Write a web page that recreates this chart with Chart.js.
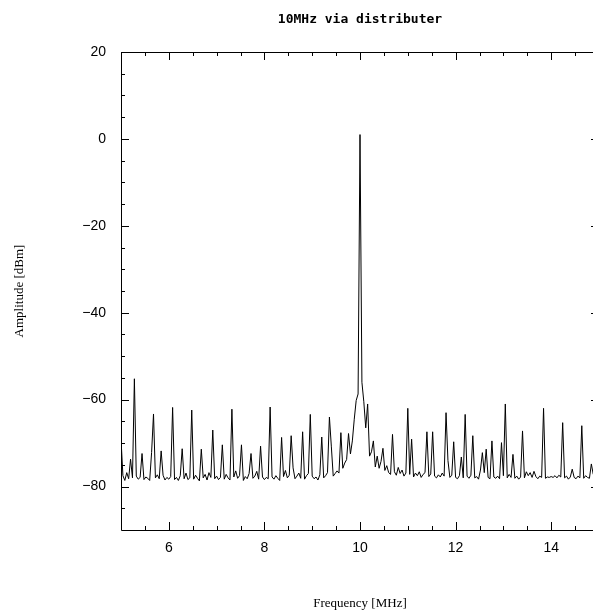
<!DOCTYPE html>
<html>
<head>
<meta charset="utf-8">
<script src="https://cdn.jsdelivr.net/npm/chart.js@4/dist/chart.umd.min.js"></script>
<style>
  html, body { margin: 0; padding: 0; background: #fff; overflow: hidden; }
  canvas { display: block; }
</style>
</head>
<body>
<canvas id="spectrum" width="600" height="616"></canvas>
<script>
// sweep grid (MHz)
const freqStartMHz = 5;
const freqStepMHz = 0.04;

// amplitude per sweep point, dBm (25 points per MHz)
const amplitudeDbm = [
  // 5.00 - 5.96
  -69.0, -77.5, -78.6, -76.8, -78.2, -73.7, -78.0, -55.2, -77.6, -78.3,
  -77.9, -72.4, -78.4, -77.8, -78.1, -78.6, -72.2, -63.3, -78.0, -77.3,
  -78.2, -71.8, -77.4, -78.5, -77.9,
  // 6.00 - 6.96
  -78.3, -77.7, -61.8, -78.4, -77.9, -78.6, -77.5, -71.3, -78.2, -76.9,
  -78.4, -78.0, -62.4, -78.3, -77.4, -78.1, -78.7, -71.4, -78.0, -77.2,
  -78.5, -76.8, -77.9, -67.0, -78.2,
  // 7.00 - 7.96
  -77.6, -78.4, -77.9, -70.4, -78.3, -77.2, -78.0, -78.5, -62.2, -77.8,
  -76.4, -78.1, -77.5, -70.4, -78.6, -77.7, -78.2, -77.0, -72.4, -78.1,
  -77.6, -76.5, -78.3, -70.7, -77.8,
  // 8.00 - 8.96
  -78.4, -77.9, -78.2, -61.7, -77.8, -78.3, -77.5, -78.1, -78.6, -68.7,
  -77.7, -76.3, -78.0, -77.4, -68.3, -75.7, -78.2, -77.6, -76.9, -78.1,
  -67.4, -78.3, -77.5, -77.0, -63.4,
  // 9.00 - 9.96
  -77.6, -78.2, -77.8, -78.5, -77.3, -68.6, -78.0, -77.5, -76.8, -64.0,
  -70.7, -77.6, -77.0, -76.4, -76.9, -67.6, -75.8, -74.6, -73.8, -67.8,
  -72.5, -69.5, -64.5, -60.2, -58.7,
  // 10.00 - 10.96
  1.0, -56.0, -60.5, -66.5, -61.0, -73.0, -72.0, -69.5, -75.5, -73.0,
  -75.8, -74.2, -71.2, -76.3, -75.2, -76.8, -77.2, -68.0, -76.6, -77.4,
  -75.6, -77.0, -76.2, -77.6, -76.9,
  // 11.00 - 11.96
  -62.0, -77.2, -69.1, -77.8, -76.9, -77.5, -76.6, -77.9, -77.2, -76.8,
  -67.4, -77.7, -77.1, -67.4, -77.6, -78.0, -77.3, -77.8, -76.9, -77.6,
  -63.0, -74.0, -77.9, -77.4, -69.7,
  // 12.00 - 12.96
  -77.9, -78.2, -77.5, -73.2, -78.0, -63.4, -77.6, -78.1, -77.4, -68.3,
  -78.0, -77.7, -78.3, -76.2, -72.2, -76.8, -71.4, -77.9, -78.2, -69.5,
  -77.8, -78.1, -77.6, -78.2, -69.9,
  // 13.00 - 13.96
  -77.5, -61.0, -78.0, -77.2, -77.9, -72.6, -78.1, -77.6, -78.3, -77.8,
  -67.2, -78.0, -76.6, -77.5, -76.8, -77.9, -76.5, -77.7, -78.2, -77.6,
  -77.9, -62.0, -78.1, -77.8, -77.9,
  // 14.00 - 15.00
  -77.7, -77.9, -77.5, -78.0, -77.4, -77.8, -65.3, -78.0, -77.6, -78.3,
  -77.8, -76.0, -77.9, -78.2, -77.6, -78.0, -66.0, -78.1, -77.5, -77.9,
  -78.1, -74.8, -77.2, -77.6, -77.9, -77.4
];

// axes
const xMajorTicks = [6, 8, 10, 12, 14];
const xMinorTicks = [5, 5.5, 6.5, 7, 7.5, 8.5, 9, 9.5, 10.5, 11, 11.5, 12.5, 13, 13.5, 14.5];
const yMajorTicks = [20, 0, -20, -40, -60, -80];
const yMinorTicks = [15, 10, 5, -5, -10, -15, -25, -30, -35, -45, -50, -55, -65, -70, -75, -85];

const points = amplitudeDbm.map((v, i) => ({ x: freqStartMHz + i * freqStepMHz, y: v }));

const fmtMinus = (v) => (v < 0 ? '\u2212' + Math.abs(v) : String(v));

// frame + inward ticks on all four sides, and the title over the plot area
const framePlugin = {
  id: 'frame',
  afterDraw(chart) {
    const { ctx, chartArea: a, scales: { x, y } } = chart;
    ctx.save();
    ctx.strokeStyle = '#000';
    ctx.lineWidth = 1;
    ctx.beginPath();
    ctx.rect(Math.round(a.left) + 0.5, Math.round(a.top) + 0.5,
      Math.round(a.right - a.left), Math.round(a.bottom - a.top));
    ctx.stroke();

    const tick = (vals, len) => {
      ctx.beginPath();
      vals.forEach((v) => {
        const px = Math.round(x.getPixelForValue(v)) + 0.5;
        ctx.moveTo(px, a.top); ctx.lineTo(px, a.top + len);
        ctx.moveTo(px, a.bottom); ctx.lineTo(px, a.bottom - len);
      });
      ctx.stroke();
    };
    const ytick = (vals, len) => {
      ctx.beginPath();
      vals.forEach((v) => {
        const py = Math.round(y.getPixelForValue(v)) + 0.5;
        ctx.moveTo(a.left, py); ctx.lineTo(a.left + len, py);
        ctx.moveTo(a.right, py); ctx.lineTo(a.right - len, py);
      });
      ctx.stroke();
    };
    tick(xMajorTicks, 8);
    tick(xMinorTicks, 4);
    ytick(yMajorTicks, 8);
    ytick(yMinorTicks, 4);

    ctx.fillStyle = '#000';
    ctx.font = 'bold 13px "DejaVu Sans Mono", monospace';
    ctx.textAlign = 'center';
    ctx.textBaseline = 'middle';
    ctx.fillText('10MHz via distributer', (a.left + a.right) / 2, 20);
    ctx.restore();
  }
};

new Chart(document.getElementById('spectrum'), {
  type: 'line',
  data: {
    datasets: [{
      data: points,
      borderColor: '#000',
      borderWidth: 1,
      pointRadius: 0,
      tension: 0,
      fill: false
    }]
  },
  options: {
    responsive: false,
    animation: false,
    events: [],
    layout: { padding: { top: 52, right: 1, left: 0, bottom: 0 } },
    plugins: {
      legend: { display: false },
      title: { display: false },
      tooltip: { enabled: false }
    },
    scales: {
      x: {
        type: 'linear',
        min: 5,
        max: 15,
        grid: { display: false, drawTicks: false },
        border: { display: false },
        afterBuildTicks: (s) => { s.ticks = xMajorTicks.map((v) => ({ value: v })); },
        afterFit: (s) => { s.height = 86; },
        ticks: {
          padding: 10,
          maxRotation: 0,
          color: '#000',
          font: { family: '"Liberation Sans", Arial, sans-serif', size: 14 },
          callback: (v) => fmtMinus(v)
        },
        title: {
          display: true,
          text: 'Frequency [MHz]',
          color: '#000',
          font: { family: '"Liberation Serif", "Times New Roman", serif', size: 13 },
          padding: { top: 0, bottom: 5 }
        }
      },
      y: {
        type: 'linear',
        min: -90,
        max: 20,
        grid: { display: false, drawTicks: false },
        border: { display: false },
        afterBuildTicks: (s) => { s.ticks = yMajorTicks.map((v) => ({ value: v })); },
        afterFit: (s) => { s.width = 121; },
        ticks: {
          padding: 15,
          color: '#000',
          font: { family: '"Liberation Sans", Arial, sans-serif', size: 14 },
          callback: (v) => fmtMinus(v)
        },
        title: {
          display: true,
          text: 'Amplitude [dBm]',
          color: '#000',
          font: { family: '"Liberation Serif", "Times New Roman", serif', size: 13 },
          padding: { top: 12, bottom: 0 }
        }
      }
    }
  },
  plugins: [framePlugin]
});
</script>
</body>
</html>
